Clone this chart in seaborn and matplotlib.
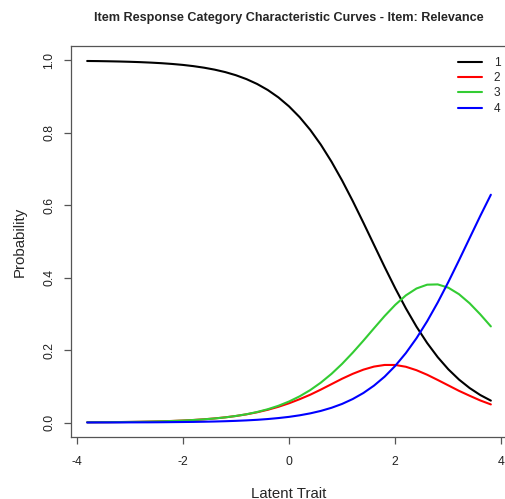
import pandas as pd
import seaborn as sns
import matplotlib.pyplot as plt
import numpy as np

# latent trait grid and category probabilities
theta = [-3.8, -3.6, -3.4, -3.2, -3.0, -2.8, -2.6, -2.4, -2.2, -2.0,
         -1.8, -1.6, -1.4, -1.2, -1.0, -0.8, -0.6, -0.4, -0.2, 0.0,
         0.2, 0.4, 0.6, 0.8, 1.0, 1.2, 1.4, 1.6, 1.8, 2.0,
         2.2, 2.4, 2.6, 2.8, 3.0, 3.2, 3.4, 3.6, 3.8]

cat1 = [.9986, .9983, .9978, .9972, .9964, .9954, .9941, .9925, .9904, .9878,
        .9844, .9801, .9747, .9679, .9593, .9485, .9351, .9185, .8981, .8733,
        .8435, .8083, .7673, .7205, .6684, .6118, .5520, .4908, .4297, .3708,
        .3154, .2648, .2198, .1805, .1469, .1187, .0953, .0760, .0605]
cat2 = [.0006, .0008, .0010, .0013, .0016, .0021, .0027, .0034, .0043, .0055,
        .0070, .0089, .0113, .0143, .0180, .0226, .0283, .0352, .0434, .0531,
        .0644, .0768, .0910, .1060, .1210, .1345, .1460, .1545, .1590, .1590,
        .1540, .1445, .1320, .1175, .1025, .0875, .0740, .0610, .0500]
cat3 = [.0006, .0008, .0010, .0012, .0016, .0020, .0026, .0033, .0042, .0054,
        .0069, .0088, .0112, .0142, .0181, .0229, .0291, .0367, .0462, .0580,
        .0723, .0896, .1103, .1344, .1621, .1930, .2260, .2603, .2941, .3250,
        .3512, .3702, .3807, .3815, .3724, .3545, .3294, .2989, .2655]
cat4 = [.0001, .0002, .0002, .0003, .0004, .0005, .0006, .0008, .0011, .0014,
        .0017, .0022, .0028, .0036, .0046, .0059, .0075, .0096, .0123, .0156,
        .0199, .0253, .0321, .0407, .0514, .0649, .0815, .1019, .1266, .1565,
        .1918, .2328, .2795, .3316, .3882, .4480, .5093, .5704, .6292]

categories = ['1', '2', '3', '4']
colors = ['black', '#ff0000', '#33cc33', '#0000ff']

df = pd.DataFrame({'theta': theta, '1': cat1, '2': cat2, '3': cat3, '4': cat4})
long = df.melt(id_vars='theta', var_name='cat', value_name='prob')

sns.set_style('white')
plt.rcParams['font.family'] = ['Liberation Sans', 'DejaVu Sans']
plt.rcParams['axes.unicode_minus'] = False

fig = plt.figure(figsize=(5.06, 4.99), dpi=100)
ax = fig.add_axes([71 / 506, 62 / 499, 436 / 506, 391 / 499])

sns.lineplot(data=long, x='theta', y='prob', hue='cat', hue_order=categories,
             palette=dict(zip(categories, colors)), linewidth=1.5, ax=ax)

ax.set_xlim(-4.104, 4.104)
ax.set_ylim(-0.04, 1.04)
ax.set_xticks([-4, -2, 0, 2, 4])
ax.set_yticks(np.arange(0, 1.01, 0.2))
ax.set_yticklabels([f'{v:.1f}' for v in np.arange(0, 1.01, 0.2)], rotation=90, va='center')

for s in ax.spines.values():
    s.set_color('#555555')
    s.set_linewidth(0.9)
ax.tick_params(axis='both', which='major', direction='out', length=5, width=0.9,
               bottom=True, left=True, color='#555555', labelsize=8.8, labelcolor='#222222')
ax.tick_params(axis='x', pad=9)
ax.tick_params(axis='y', pad=6.3)

ax.set_title('Item Response Category Characteristic Curves - Item: Relevance',
             fontsize=9.1, fontweight='bold', pad=18)
ax.set_xlabel('Latent Trait', fontsize=10.8, labelpad=13)
ax.set_ylabel('Probability', fontsize=10.8, labelpad=12)

ax.legend(loc='upper right', bbox_to_anchor=(505 / 506, 447 / 499), bbox_transform=fig.transFigure,
          frameon=False, fontsize=8.6, handlelength=2.0, handletextpad=1.0,
          labelspacing=0.28, borderaxespad=0)

fig.savefig('out.png', dpi=100)
